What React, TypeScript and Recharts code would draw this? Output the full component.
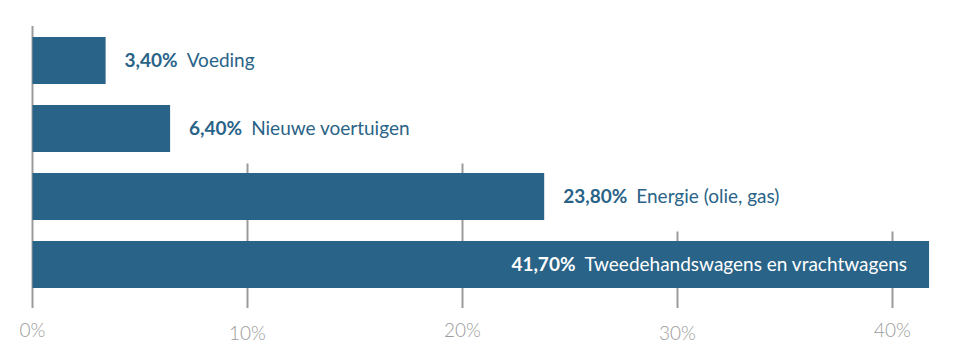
import { BarChart, Bar, XAxis, YAxis, CartesianGrid, LabelList } from "recharts";

const categories = [
  "Voeding",
  "Nieuwe voertuigen",
  "Energie (olie, gas)",
  "Tweedehandswagens en vrachtwagens",
];
const shares = [3.4, 6.4, 23.8, 41.7];
const xTicks = [0, 10, 20, 30, 40];

const data = categories.map((name, i) => ({ name, value: shares[i] }));

const BLUE = "#296387";
const GREY = "#9b9b9b";
const FONT = "'Source Sans Pro', Lato, 'Open Sans', sans-serif";
const BAND_PAD = 11.5;

const fmt = (v: number) => v.toFixed(2).replace(".", ",") + "%";

// white band right of each bar hides the gridlines behind the label
function BarShape(props: any) {
  const { x, y, width, height } = props;
  return (
    <g>
      <rect
        x={x + width}
        y={y - BAND_PAD}
        width={1000}
        height={height + BAND_PAD * 2}
        fill="#fff"
      />
      <rect x={x} y={y} width={width} height={height} fill={BLUE} />
    </g>
  );
}

function BarLabel(props: any) {
  const { x, y, width, height, index } = props;
  const row = data[index];
  const inside = width > 600;
  const cy = y + height / 2;
  return (
    <text
      x={inside ? x + width - 22 : x + width + 19}
      y={cy}
      dy={6.5}
      textAnchor={inside ? "end" : "start"}
      fill={inside ? "#fff" : BLUE}
      fontSize={19}
      fontFamily={FONT}
    >
      <tspan fontWeight={700}>{fmt(row.value)}</tspan>
      <tspan dx={9}>{row.name}</tspan>
    </text>
  );
}

function Tick(props: any) {
  const { x, y, payload, index } = props;
  return (
    <text
      x={x}
      y={y}
      dy={index % 2 ? 30 : 26.5}
      textAnchor="middle"
      fill={GREY}
      fontSize={19}
      fontWeight={300}
      fontFamily={FONT}
    >
      {payload.value}%
    </text>
  );
}

export default function App() {
  return (
    <div style={{ position: "absolute", left: 0, top: 0, background: "#fff" }}>
      <BarChart
        width={962}
        height={356}
        data={data}
        layout="vertical"
        margin={{ top: 26, right: 26.5, bottom: 0, left: 32.5 }}
        barSize={47}
      >
        <CartesianGrid
          vertical
          horizontal={false}
          stroke={GREY}
          strokeWidth={2}
        />
        <XAxis
          type="number"
          domain={[0, 42]}
          ticks={xTicks}
          axisLine={false}
          tickLine={{ stroke: GREY, strokeWidth: 2 }}
          tickSize={10}
          tick={<Tick />}
          height={58}
        />
        <YAxis type="category" dataKey="name" hide width={0} />
        <Bar dataKey="value" shape={<BarShape />} isAnimationActive={false}>
          <LabelList dataKey="value" content={<BarLabel />} />
        </Bar>
      </BarChart>
    </div>
  );
}
